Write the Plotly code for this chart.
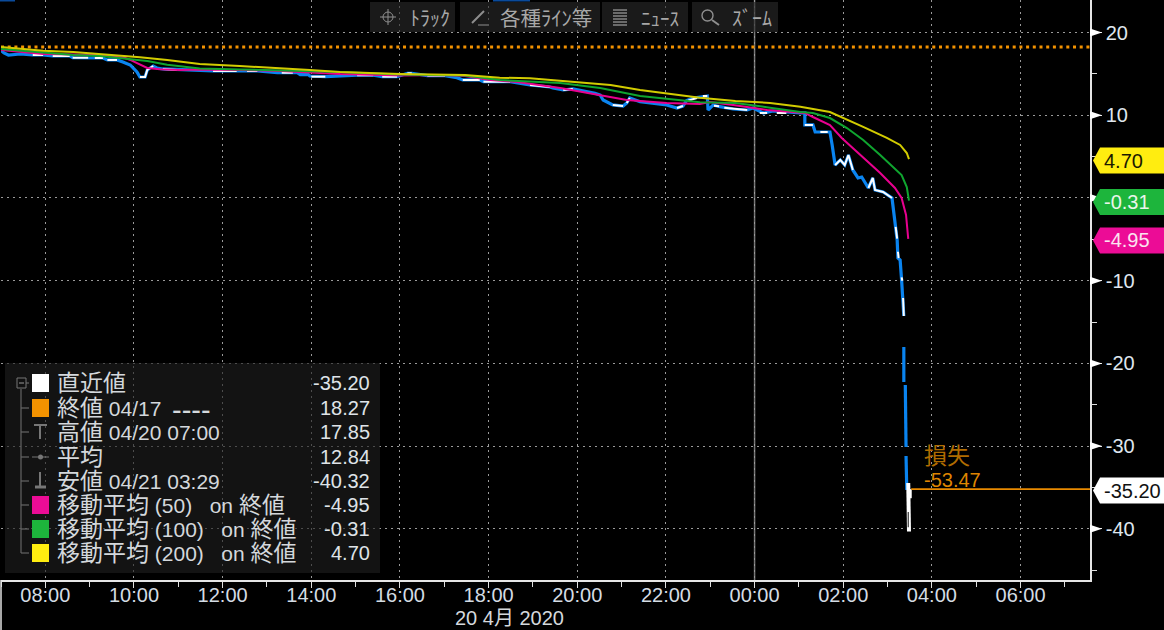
import re
import plotly.graph_objects as go

# ---------- data ----------
price_t = ["07:00","07:04","07:10","07:26","07:43","07:57","08:10","08:33","08:37","08:58","09:07","09:18","09:24","09:37","09:45","09:55","10:04","10:08","10:15","10:18","10:26","10:31","10:39","10:58","11:13","11:47","12:19","12:33","12:47","13:14","13:41","13:45","13:56","13:58","14:19","15:02","15:24","15:36","15:56","16:10","16:16","16:37","17:01","17:17","17:25","17:48","17:53","18:29","18:56","19:23","19:27","19:41","19:54","20:24","20:31","20:35","20:40","20:48","21:02","21:07","21:11","21:25","22:01","22:15","22:23","22:28","22:37","22:56","22:57","23:04","23:13","23:31","23:50","23:58","00:12","00:25","01:02","01:08","01:08","01:19","01:22","01:42","01:45","01:49","01:56","02:02","02:07","02:13","02:20","02:25","02:34","02:40","02:43","02:54","03:06","03:07","03:10","03:13","03:14","03:17","03:19","03:21","03:22","03:22","03:22","03:22","03:24","03:24","03:25","03:25","03:25","03:25","03:26"]
price_v = [17.85,17.53,17.29,17.41,17.29,17.29,17.17,17.17,16.96,16.96,16.93,16.93,16.69,16.69,16.44,16.08,15.24,14.63,14.63,15.48,15.96,15.72,15.60,15.48,15.48,15.36,15.36,15.36,15.36,15.15,15.15,14.91,14.91,14.75,14.67,14.84,14.84,14.67,14.67,15.08,15.08,14.79,14.79,14.55,14.27,14.27,14.06,14.06,13.66,13.42,13.30,13.06,13.18,12.66,12.45,11.85,11.61,11.25,11.12,11.49,12.09,11.64,11.25,10.88,11.12,11.77,12.09,12.33,10.64,11.25,11.04,10.76,10.64,10.88,10.28,10.52,10.28,10.28,8.83,8.83,7.98,7.98,6.41,3.99,4.60,3.99,5.20,3.39,2.42,2.54,1.21,2.42,0.97,0.73,0.00,-0.85,-3.26,-5.08,-7.26,-7.50,-9.92,-12.33,-14.27,None,-18.02,-22.25,None,-22.61,-30.11,None,-31.20,-34.50,-35.31]

white_t = ["07:43","07:57",None,"08:10","08:33",None,"08:37","08:58",None,"09:07","09:18",None,"09:24","09:37",None,"10:08","10:15","10:18","10:26",None,"10:39","10:58",None,"11:47","12:19",None,"12:33","12:47",None,"13:20","13:35",None,"14:00","14:19",None,"15:02","15:24",None,"15:36","15:56",None,"16:10","16:16",None,"16:37","17:01",None,"17:25","17:48",None,"17:53","18:29",None,"18:56","19:23",None,"19:41","19:54",None,"20:48","21:02",None,"21:07","21:11",None,"22:15","22:23",None,"22:30","22:42",None,"22:50","22:56",None,"23:05","23:12",None,"23:19","23:50",None,"00:07","00:17",None,"00:30","00:43",None,"01:08","01:19",None,"01:29","01:39",None,"01:49","01:56","02:02","02:07","02:13",None,"02:34","02:40","02:43","02:54","03:06",None,"03:11","03:13",None,"03:14","03:15",None,"03:19","03:20",None,"03:21","03:22"]
white_v = [17.29,17.29,None,17.17,17.17,None,16.96,16.96,None,16.93,16.93,None,16.69,16.69,None,14.63,14.63,15.48,15.96,None,15.60,15.48,None,15.36,15.36,None,15.36,15.36,None,15.15,15.15,None,14.67,14.67,None,14.84,14.84,None,14.67,14.67,None,15.08,15.08,None,14.79,14.79,None,14.27,14.27,None,14.06,14.06,None,13.66,13.42,None,13.06,13.18,None,11.25,11.12,None,11.49,12.09,None,10.88,11.12,None,11.77,12.09,None,12.33,12.33,None,11.16,11.10,None,10.90,10.64,None,10.28,10.28,None,10.28,10.28,None,8.83,8.83,None,7.98,7.98,None,3.99,4.60,3.99,5.20,3.39,None,1.21,2.42,0.97,0.73,0.00,None,-3.50,-4.90,None,-6.50,-7.26,None,-9.60,-10.00,None,-12.10,-14.27]

candle_t = ["03:28","03:28","03:29","03:29",None,"03:30","03:30"]
candle_v = [-34.46,-37.00,-37.90,-40.32,None,-35.20,-36.30]
hollow_t = ["03:28","03:28"]
hollow_v = [-37.97,-39.80]

ma50_t = ["07:00","07:26","07:57","08:40","09:14","09:48","09:55","10:18","10:35","11:02","11:29","12:23","13:18","14:39","16:00","16:54","17:28","18:02","18:39","19:37","20:31","21:07","22:01","22:46","22:59","23:31","00:17","01:02","01:08","01:19","01:42","01:58","02:19","02:37","02:50","03:10","03:19","03:25","03:28"]
ma50_v = [17.90,17.65,17.41,17.35,17.29,16.93,16.69,15.72,15.56,15.48,15.54,15.48,15.36,14.99,14.81,14.87,14.75,14.27,14.03,13.30,12.45,11.85,11.49,11.37,11.61,11.25,10.64,10.28,10.28,9.79,8.83,7.26,5.56,3.99,3.02,1.21,0.00,-2.06,-4.95]

ma100_t = ["07:00","07:53","08:38","09:14","09:41","10:18","10:45","11:29","12:23","13:18","14:39","16:00","17:28","18:15","19:37","20:31","21:25","22:46","23:34","00:21","01:02","01:19","01:42","02:05","02:27","02:50","03:08","03:19","03:26","03:28","03:29"]
ma100_v = [18.02,17.65,17.29,17.17,16.93,16.57,16.12,15.66,15.54,15.42,15.24,14.93,14.81,14.27,13.91,13.30,12.33,11.57,11.49,10.92,10.40,10.28,9.67,8.46,7.01,5.20,3.63,2.78,1.33,0.00,-0.31]

ma200_t = ["07:00","07:19","07:57","08:38","09:14","09:41","10:08","10:45","11:29","12:23","13:18","13:58","14:39","16:00","17:28","18:15","18:56","19:37","20:31","20:45","21:25","22:19","22:46","23:34","00:21","01:02","01:42","02:27","02:59","03:17","03:26","03:29"]
ma200_v = [18.27,18.14,17.80,17.65,17.41,17.23,17.01,16.69,16.20,15.96,15.72,15.48,15.24,14.99,14.87,14.55,14.47,14.18,13.78,13.66,13.06,12.45,12.13,11.73,11.49,11.04,10.40,8.59,7.26,6.41,5.44,4.70]

close_value = 18.27
last_value = -35.20
loss_value = -53.47

y_ticks = [20, 10, 0, -10, -20, -30, -40]
y_labels = ["20", "10", "", "-10", "-20", "-30", "-40"]

pill_values = [4.70, -0.31, -4.95, -35.20]
pill_labels = ["4.70", "-0.31", "-4.95", "-35.20"]
pill_fill = ["#ffed10", "#1db53c", "#ec0c96", "#ffffff"]
pill_text = ["#1a1a00", "#eaf5ea", "#fbe3f0", "#111111"]

legend_labels = ["直近値", "終値 04/17", "高値 04/20 07:00", "平均", "安値 04/21 03:29", "移動平均 (50)\u00a0\u00a0 on 終値", "移動平均 (100)\u00a0\u00a0 on 終値", "移動平均 (200)\u00a0\u00a0 on 終値"]
legend_values = ["-35.20", "18.27", "17.85", "12.84", "-40.32", "-4.95", "-0.31", "4.70"]
legend_swatch = ["#ffffff", "#f39200", None, None, None, "#ec0c96", "#1db53c", "#ffed10"]
close_dash_label = "----"

toolbar_labels = ["ﾄﾗｯｸ", "各種ﾗｲﾝ等", "ﾆｭｰｽ", "ｽﾞｰﾑ"]
date_label = "20 4月 2020"
loss_label = "損失"

# ---------- helpers ----------
W, H = 1164, 630
L, R, T, B = 1, 1090, 0, 580
FONT = "Liberation Sans, Noto Sans CJK JP, sans-serif"


def px(x):
    return (x - L) / (R - L)


def py(y):
    return 1 - (y - T) / (B - T)


def stamp(times):
    out = []
    for t in times:
        if t is None:
            out.append(None)
        else:
            day = "2020-04-21" if int(t[:2]) < 7 else "2020-04-20"
            out.append(f"{day} {t}")
    return out


def big_cjk(text, size):
    return re.sub(r"([\u3400-\u9fff]+)", rf'<span style="font-size:{size}px">\1</span>', text)


fig = go.Figure()


def line(t, v, color, width, **kw):
    fig.add_trace(go.Scatter(x=stamp(t), y=v, mode="lines", line=dict(color=color, width=width),
                             hoverinfo="skip", showlegend=False, connectgaps=False, **kw))


X0, X1 = "2020-04-20 07:00", "2020-04-21 07:34"
line(["07:00", "07:34"], [close_value, close_value], "#f39200", 3)
fig.data[-1].x = (X0, X1)
fig.data[-1].line.dash = "3px,3.7px"
line(price_t, price_v, "#0a84f0", 3.2)
line(white_t, white_v, "#ffffff", 2)
line(candle_t, candle_v, "#ffffff", 4)
line(hollow_t, hollow_v, "#333333", 1.2)
line(ma50_t, ma50_v, "#e8008f", 2)
line(ma100_t, ma100_v, "#0fa52f", 2)
line(ma200_t, ma200_v, "#d2cc00", 2)
line(["03:32", "07:34"], [last_value, last_value], "#e98a00", 1.6)
fig.data[-1].x = ("2020-04-21 03:32", X1)

shapes = []
ann = []


def text(x, y, s, size=20, color="#d4d8dc", anchor="left", xref="paper", yref="paper", yshift=0, family=FONT):
    ann.append(dict(x=x, y=y, xref=xref, yref=yref, text=s, showarrow=False, xanchor=anchor, yanchor="middle",
                    yshift=yshift, font=dict(size=size, color=color, family=family), align=anchor))


def rect(x0, y0, x1, y1, fill, line_color=None, layer="above", w=1):
    shapes.append(dict(type="rect", xref="paper", yref="paper", x0=px(x0), x1=px(x1), y0=py(y0), y1=py(y1),
                       fillcolor=fill, line=dict(color=line_color or "rgba(0,0,0,0)", width=w), layer=layer))


def seg(x0, y0, x1, y1, color, w=1):
    shapes.append(dict(type="line", xref="paper", yref="paper", x0=px(x0), x1=px(x1), y0=py(y0), y1=py(y1),
                       line=dict(color=color, width=w), layer="above"))


# midnight divider
shapes.append(dict(type="line", xref="x", yref="paper", x0="2020-04-21 00:00", x1="2020-04-21 00:00", y0=0, y1=1,
                   line=dict(color="#777777", width=1.5), layer="below"))

# axis triangles
for v in y_ticks:
    shapes.append(dict(type="path", xref="paper", yref="y", xsizemode="pixel", ysizemode="pixel", xanchor=1, yanchor=v,
                       path="M 0 4 L 12 0 L 0 -4 Z", fillcolor="#ffffff", line=dict(width=0), layer="above"))

# value pills
for v, lab, f, c in zip(pill_values, pill_labels, pill_fill, pill_text):
    shapes.append(dict(type="path", xref="paper", yref="y", xsizemode="pixel", ysizemode="pixel", xanchor=1, yanchor=v,
                       path="M 3 -1.5 L 10 11.5 L 74 11.5 L 74 -14.5 L 10 -14.5 Z", fillcolor=f, line=dict(width=0), layer="above"))
    ann.append(dict(x=px(1102), y=v, xref="paper", yref="y", text=lab, showarrow=False, xanchor="left", yanchor="middle",
                    yshift=-1.5, font=dict(size=20, color=c, family=FONT)))

# lower-left divider and top edge strips
seg(1, 580, 1, 630, "#e0e0e0", 1.5)
rect(493, 0, 530, 1.5, "#0a4a9a")
rect(0, 0, 15, 1.5, "#0a4a9a")

# toolbar
for a, b in [(370, 455), (460, 600), (602, 688), (692, 778)]:
    rect(a, 2, b, 32, "rgba(42,42,42,0.62)")
for lab, x, sz in zip(toolbar_labels, [408, 498, 639, 730], [20, 20.5, 19, 20]):
    text(px(x), py(17), lab, size=sz, color="#a8a8a8", family="Noto Sans CJK JP")
TB = "#8e8e8e"
shapes.append(dict(type="circle", xref="paper", yref="paper", x0=px(383), x1=px(393), y0=py(12), y1=py(22),
                   line=dict(color=TB, width=1), layer="above"))
seg(380, 17, 396, 17, TB)
seg(388, 9, 388, 25, TB)
seg(472, 23, 484, 11, TB, 2)
seg(478, 25, 488, 25, TB, 1)
for yy in [10, 13, 16, 19, 22, 25]:
    seg(613, yy, 627, yy, TB, 1.4)
shapes.append(dict(type="circle", xref="paper", yref="paper", x0=px(702), x1=px(713), y0=py(10), y1=py(21),
                   line=dict(color=TB, width=1.4), layer="above"))
seg(712, 20, 719, 25, TB, 2)

# legend panel
rect(5, 363, 380, 573, "rgba(30,30,30,0.62)")
rows = [383, 408, 432, 457, 481, 505, 529, 553]
for y, lab, val, sw in zip(rows, legend_labels, legend_values, legend_swatch):
    text(px(55), py(y), big_cjk(lab, 23), size=21)
    text(px(372), py(y), val, size=20, anchor="right", color="#dfe3e8")
    seg(21, y, 29, y, "#666666", 1.2)
    if sw:
        rect(32, y - 9, 49, y + 9, sw)
text(px(170), py(rows[1] + 2), close_dash_label, size=29)
seg(21, 389, 21, 553, "#666666", 1.2)
rect(17, 378, 26, 388, "#111111", "#777777")
seg(19, 383, 24, 383, "#999999")
# high / average / low icons
seg(34, 425, 47, 425, "#777777", 2)
seg(40, 425, 40, 439, "#777777", 2)
seg(32, 457, 49, 457, "#777777", 1)
shapes.append(dict(type="circle", xref="paper", yref="paper", x0=px(38), x1=px(43), y0=py(454.5), y1=py(459.5),
                   fillcolor="#777777", line=dict(width=0), layer="above"))
seg(40, 472, 40, 487, "#777777", 2)
seg(35, 487, 46, 487, "#777777", 3)

# loss note
text(px(922), py(454), loss_label, size=23, color="#b06c00", family="Noto Sans CJK JP")
text(px(922), py(480), f"{loss_value:.2f}", size=20, color="#df8500")

# date caption
text(px(509), py(618), big_cjk(date_label, 20), size=20, anchor="center", color="#d4d8dc")

fig.update_layout(
    width=W, height=H,
    margin=dict(l=L, r=W - R, t=T, b=H - B, pad=0, autoexpand=False),
    paper_bgcolor="#000000", plot_bgcolor="#000000",
    showlegend=False, shapes=shapes, annotations=ann,
    xaxis=dict(type="date", range=[X0, X1], tick0="2020-04-20 08:00", dtick=7200000, tickformat="%H:%M",
               ticks="outside", ticklen=6, tickcolor="#e0e0e0", tickwidth=1, ticklabelstandoff=-10,
               minor=dict(dtick=3600000, ticks="outside", ticklen=5, tickcolor="#e0e0e0", showgrid=False),
               showgrid=True, gridcolor="#9a9a9a", griddash="2px,4px", gridwidth=1, zeroline=False,
               showline=True, linecolor="#e6e6e6", linewidth=1.5,
               tickfont=dict(size=20, color="#d4dce4", family=FONT)),
    yaxis=dict(side="right", range=[-46.19, 23.94], tickmode="array", tickvals=y_ticks, ticktext=y_labels,
               ticks="outside", ticklen=10, tickcolor="#e0e0e0", tickwidth=1,
               minor=dict(tickvals=[15, 5, -5, -15, -25, -35, -45], ticks="outside", ticklen=5, tickcolor="#e0e0e0", showgrid=False),
               showgrid=True, gridcolor="#9a9a9a", griddash="2px,4px", gridwidth=1, zeroline=False,
               showline=True, linecolor="#e6e6e6", linewidth=1.5,
               tickfont=dict(size=20, color="#dfe6ee", family=FONT)),
)

fig.write_html("out.html", config=dict(displayModeBar=False),
               post_script="document.body.style.margin='0';document.body.style.overflow='hidden';document.body.style.background='#000';")
